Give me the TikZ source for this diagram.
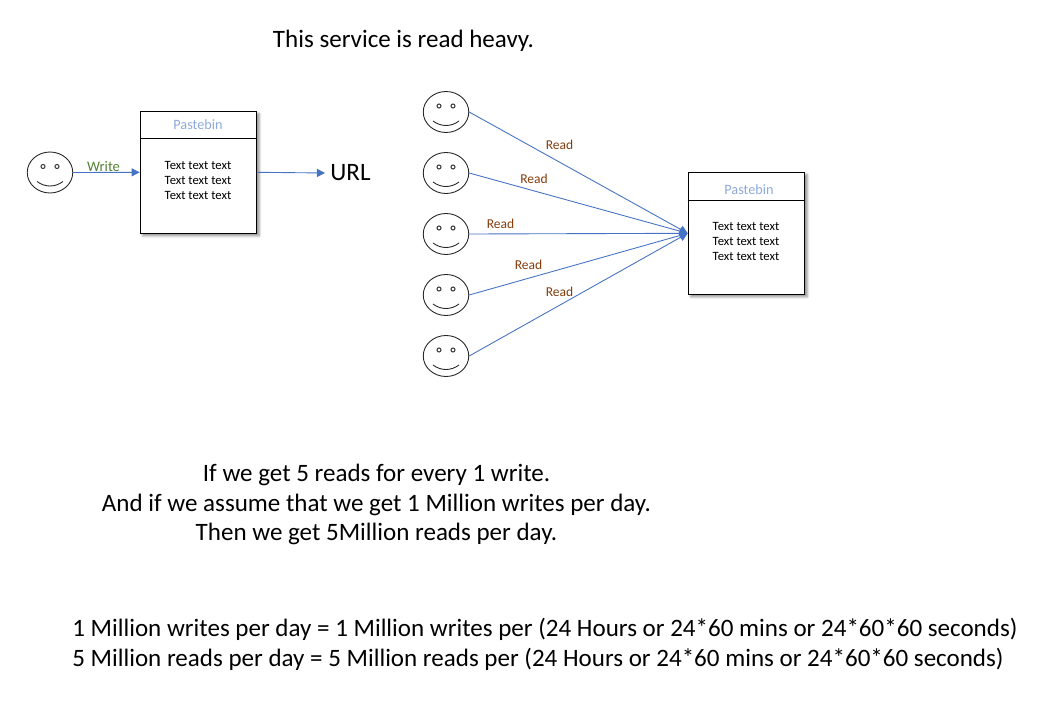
\documentclass[tikz,border=0pt]{standalone}
\usepackage{fontspec}
\setmainfont{Carlito}
\usetikzlibrary{arrows.meta,shapes.geometric,shadows.blur}
\definecolor{linkblue}{HTML}{4472C4}
\definecolor{titleblue}{HTML}{8EAADB}
\definecolor{writegreen}{HTML}{538135}
\definecolor{readbrown}{HTML}{843C0C}
\tikzset{
	face/.style={draw=black!85,line width=.5pt,ellipse,minimum width=45.5*0.02cm,minimum height=41*0.02cm,inner sep=0pt},
	eye/.style={draw=black!75,line width=.6pt,circle,minimum size=4*0.02cm,inner sep=0pt},
	pastebox/.style={draw,line width=.7pt,fill=white,minimum width=116.4*0.02cm,minimum height=122*0.02cm,inner sep=0pt,
		blur shadow={shadow xshift=.05cm,shadow yshift=-.05cm,shadow blur radius=.05cm,shadow opacity=45}},
	link/.style={draw=linkblue,line width=.5pt,-{Triangle[length=4.6pt,width=4.6pt]}},
	titletext/.style={text=titleblue,font=\fontsize{8.1}{10}\selectfont},
	bodytext/.style={align=center,font=\fontsize{7.2}{8.5}\selectfont},
	readtext/.style={text=readbrown,font=\fontsize{7.7}{9}\selectfont},
	bigtext/.style={font=\fontsize{14.25}{17}\selectfont}
}
% draws the eyes and the smile of a face node
\newcommand{\facedetail}[1]{
	\node[eye] (#1eyel) at ([xshift=-7*0.02cm,yshift=6*0.02cm]#1.center) {};
	\node[eye] (#1eyer) at ([xshift=7*0.02cm,yshift=6*0.02cm]#1.center) {};
	\draw[black!85,line width=.5pt] ([xshift=-13*0.02cm,yshift=-9*0.02cm]#1.center) .. controls ([xshift=-5*0.02cm,yshift=-15*0.02cm]#1.center) and ([xshift=5*0.02cm,yshift=-15*0.02cm]#1.center) .. ([xshift=13*0.02cm,yshift=-9*0.02cm]#1.center);
}
\begin{document}
\begin{tikzpicture}[x=0.02cm,y=-0.02cm]
	\useasboundingbox (0,0) rectangle (1058,706);
	\node[bigtext] (heading) at (403.5,41) {This service is read heavy.};
	% writer side
	\node[face] (writer) at (50,172.5) {};
	\facedetail{writer}
	\node[pastebox] (store) at (198.5,172.3) {};
	\draw[line width=.7pt] (store.west |- 0,138.3) -- (store.east |- 0,138.3);
	\node[titletext] (storetitle) at (198,125) {Pastebin};
	\node[bodytext] (storebody) at (198,180.5) {Text text text\\Text text text\\Text text text};
	\node[bigtext,anchor=west,inner sep=5*0.02cm] (url) at (325,173) {URL};
	\draw[link] (writer.east) -- (store.west);
	\draw[link] (store.east) -- (url.west);
	\node[text=writegreen,font=\fontsize{8.3}{10}\selectfont] (writelabel) at (103.5,166.5) {Write};
	% reader side
	\node[pastebox] (cache) at (746.5,233.3) {};
	\draw[line width=.7pt] (cache.west |- 0,200.3) -- (cache.east |- 0,200.3);
	\node[titletext] (cachetitle) at (749,190) {Pastebin};
	\node[bodytext] (cachebody) at (746,241.5) {Text text text\\Text text text\\Text text text};
	\foreach \i/\y/\lx/\ly in {1/112/559.5/145,2/173/534/179,3/234/500.5/224,4/295/528.5/265,5/356/559.5/292}
		{
			\node[face] (reader\i) at (446,\y) {};
			\facedetail{reader\i}
			\draw[link] (reader\i.east) -- (cache.west);
			\node[readtext] (readlabel\i) at (\lx,\ly) {Read};
		}
	% sums
	\node[bigtext,align=center] (sums) at (376.5,504.5) {If we get 5 reads for every 1 write.\\And if we assume that we get 1 Million writes per day.\\Then we get 5Million reads per day.};
	\node[bigtext,anchor=west,inner sep=0pt,align=left] (perday) at (72,644) {1 Million writes per day = 1 Million writes per (24 Hours or 24*60 mins or 24*60*60 seconds)\\5 Million reads per day = 5 Million reads per (24 Hours or 24*60 mins or 24*60*60 seconds)};
\end{tikzpicture}
\end{document}
